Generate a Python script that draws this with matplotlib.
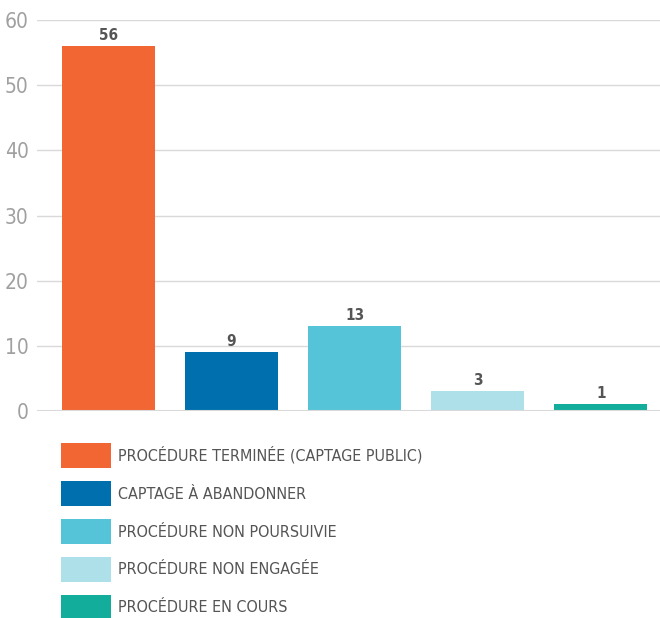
import matplotlib.pyplot as plt
from matplotlib.patches import Patch

# Data
categories = ['PROCÉDURE TERMINÉE (CAPTAGE PUBLIC)', 'CAPTAGE À ABANDONNER',
              'PROCÉDURE NON POURSUIVIE', 'PROCÉDURE NON ENGAGÉE', 'PROCÉDURE EN COURS']
values = [56, 9, 13, 3, 1]
colors = ['#f26633', '#006fad', '#55c4d8', '#aee0e9', '#13ad9c']
yticks = [0, 10, 20, 30, 40, 50, 60]

plt.rcParams['font.family'] = ['DejaVu Sans']
plt.rcParams['font.stretch'] = 'condensed'

fig = plt.figure(figsize=(6.6, 6.18), dpi=100)
ax = fig.add_axes([37 / 660, (618 - 411) / 618, (660 - 37) / 660, (411 - 20) / 618])

x = list(range(len(values)))
bars = ax.bar(x, values, width=0.756, color=colors, zorder=3)
for xi, v in zip(x, values):
    ax.text(xi, v + 0.5, str(v), ha='center', va='bottom', fontsize=11,
            fontweight='bold', color='#555555', fontstretch='condensed')

ax.set_xlim(-0.58, 4.48)
ax.set_ylim(0, 60)
ax.set_yticks(yticks)
ax.set_xticks([])
ax.grid(axis='y', color='#d9d9d9', linewidth=1, zorder=0)
for s in ax.spines.values():
    s.set_visible(False)
ax.tick_params(axis='y', length=0, pad=6, labelsize=15, labelcolor='#a0a0a0')
ax.axhline(0, color='#d9d9d9', linewidth=1.5, zorder=4)

handles = [Patch(facecolor=c, edgecolor='none') for c in colors]
fig.legend(handles, categories, loc='upper left', bbox_to_anchor=(47 / 660, 1 - 429 / 618),
           frameon=False, fontsize=11.5, handlelength=3.13, handleheight=2.01,
           labelspacing=0.82, handletextpad=0.4, labelcolor='#555555')

fig.savefig('out.png', dpi=100)
